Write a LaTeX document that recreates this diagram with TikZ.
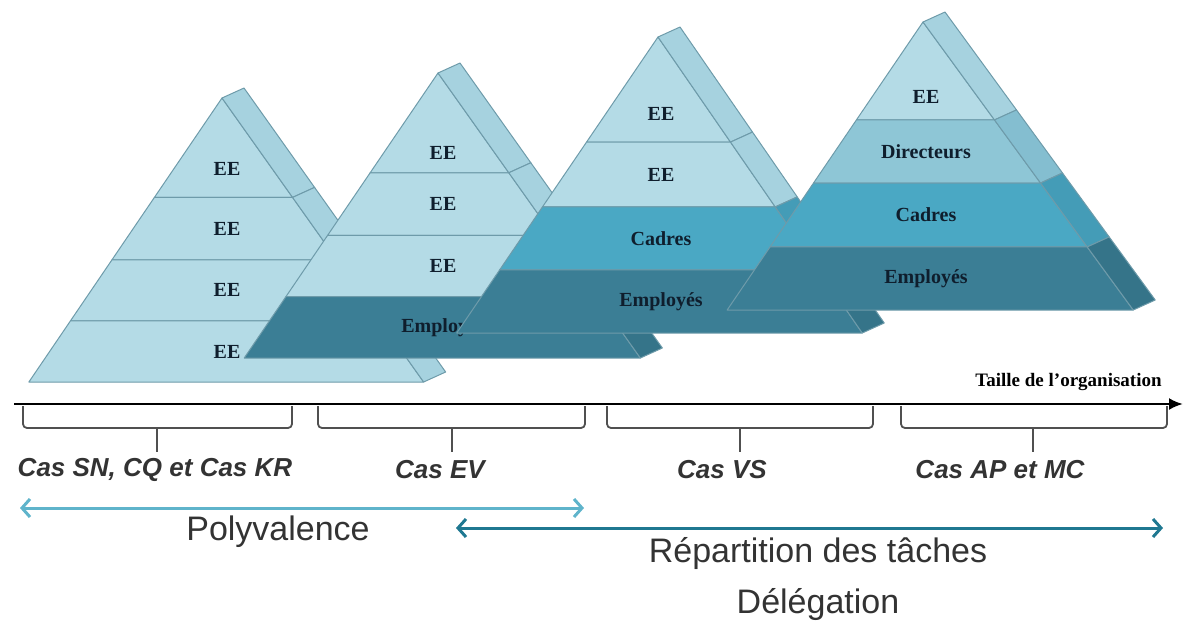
\documentclass[tikz,border=0pt]{standalone}
\usepackage{fontspec}
\setmainfont{Liberation Serif}
\newfontfamily\orgsansfont{Liberation Sans}
\usetikzlibrary{arrows.meta,calc}
\definecolor{orglight}{HTML}{B4DBE6}
\definecolor{orglightside}{HTML}{A6D2DF}
\definecolor{orgmid}{HTML}{8EC6D6}
\definecolor{orgmidside}{HTML}{84BED0}
\definecolor{orgcadre}{HTML}{4AA8C4}
\definecolor{orgcadreside}{HTML}{449CB7}
\definecolor{orgemp}{HTML}{3B7E95}
\definecolor{orgempside}{HTML}{357489}
\definecolor{orgedge}{HTML}{6E9BAA}
\definecolor{orgink}{HTML}{0F1E2D}
\definecolor{orgtext}{HTML}{333333}
\definecolor{orggray}{HTML}{505050}
\definecolor{orgpolycol}{HTML}{5FB4CB}
\definecolor{orgrepcol}{HTML}{1F7891}
\tikzset{
  orglayer/.style={draw=orgedge, line width=0.5pt, line join=round},
  orgside/.style={draw=orgedge, line width=0.5pt, line join=round},
  orglabel/.style={font=\bfseries\fontsize{10}{12}\selectfont, text=orgink, inner sep=0pt},
  orgaxis/.style={-{Latex[length=7pt,width=6pt]}, line width=1.2pt, draw=black},
  orgbracket/.style={draw=orggray, line width=0.9pt, rounded corners=2pt},
  orgcase/.style={font=\orgsansfont\bfseries\itshape\fontsize{13}{15}\selectfont, text=orgtext},
  orgspan/.style={{Straight Barb[length=4pt,width=9pt]}-{Straight Barb[length=4pt,width=9pt]}, line width=1.5pt},
  orgspantext/.style={font=\orgsansfont\fontsize{17}{20}\selectfont, text=orgtext},
  orgtitle/.style={font=\bfseries\fontsize{9.5}{11}\selectfont, text=black, inner sep=0pt}
}
\begin{document}
\begin{tikzpicture}[x=0.5pt,y=-0.5pt]
  \useasboundingbox (0,0) rectangle (1185,623);

  % pyramid 1
  \begin{scope}[shift={(222,98)}]
    \def\pyrh{284}
    \foreach \ta/\tb/\tl/\fc/\sc/\txt [count=\n] in {0/.35/.25/orglight/orglightside/EE, .35/.57/.46/orglight/orglightside/EE, .57/.785/.6775/orglight/orglightside/EE, .785/1/.8925/orglight/orglightside/EE}
    {
      \filldraw[orglayer, fill=\fc] (-0.68*\ta*\pyrh, \ta*\pyrh) -- (0.71*\ta*\pyrh, \ta*\pyrh) -- (0.71*\tb*\pyrh, \tb*\pyrh) -- (-0.68*\tb*\pyrh, \tb*\pyrh) -- cycle;
      \filldraw[orgside, fill=\sc] (0.71*\ta*\pyrh, \ta*\pyrh) -- ++(22,-10) -- (0.71*\tb*\pyrh+22, \tb*\pyrh-10) -- (0.71*\tb*\pyrh, \tb*\pyrh) -- cycle;
      \node[orglabel] (pyrA-\n) at (5, \tl*\pyrh) {\txt};
    }
  \end{scope}

  % pyramid 2
  \begin{scope}[shift={(438,73)}]
    \def\pyrh{285}
    \foreach \ta/\tb/\tl/\fc/\sc/\txt [count=\n] in {0/.35/.28/orglight/orglightside/EE, .35/.57/.46/orglight/orglightside/EE, .57/.785/.6775/orglight/orglightside/EE, .785/1/.8925/orgemp/orgempside/Employés}
    {
      \filldraw[orglayer, fill=\fc] (-0.68*\ta*\pyrh, \ta*\pyrh) -- (0.71*\ta*\pyrh, \ta*\pyrh) -- (0.71*\tb*\pyrh, \tb*\pyrh) -- (-0.68*\tb*\pyrh, \tb*\pyrh) -- cycle;
      \filldraw[orgside, fill=\sc] (0.71*\ta*\pyrh, \ta*\pyrh) -- ++(22,-10) -- (0.71*\tb*\pyrh+22, \tb*\pyrh-10) -- (0.71*\tb*\pyrh, \tb*\pyrh) -- cycle;
      \node[orglabel] (pyrB-\n) at (5, \tl*\pyrh) {\txt};
    }
  \end{scope}

  % pyramid 3
  \begin{scope}[shift={(658,37)}]
    \def\pyrh{296}
    \foreach \ta/\tb/\tl/\fc/\sc/\txt [count=\n] in {0/.355/.26/orglight/orglightside/EE, .355/.574/.4645/orglight/orglightside/EE, .574/.787/.6805/orgcadre/orgcadreside/Cadres, .787/1/.8935/orgemp/orgempside/Employés}
    {
      \filldraw[orglayer, fill=\fc] (-0.68*\ta*\pyrh, \ta*\pyrh) -- (0.69*\ta*\pyrh, \ta*\pyrh) -- (0.69*\tb*\pyrh, \tb*\pyrh) -- (-0.68*\tb*\pyrh, \tb*\pyrh) -- cycle;
      \filldraw[orgside, fill=\sc] (0.69*\ta*\pyrh, \ta*\pyrh) -- ++(22,-10) -- (0.69*\tb*\pyrh+22, \tb*\pyrh-10) -- (0.69*\tb*\pyrh, \tb*\pyrh) -- cycle;
      \node[orglabel] (pyrC-\n) at (3, \tl*\pyrh) {\txt};
    }
  \end{scope}

  % pyramid 4
  \begin{scope}[shift={(923,22)}]
    \def\pyrh{288}
    \foreach \ta/\tb/\tl/\fc/\sc/\txt [count=\n] in {0/.34/.26/orglight/orglightside/EE, .34/.559/.4495/orgmid/orgmidside/Directeurs, .559/.781/.67/orgcadre/orgcadreside/Cadres, .781/1/.8905/orgemp/orgempside/Employés}
    {
      \filldraw[orglayer, fill=\fc] (-0.68*\ta*\pyrh, \ta*\pyrh) -- (0.73*\ta*\pyrh, \ta*\pyrh) -- (0.73*\tb*\pyrh, \tb*\pyrh) -- (-0.68*\tb*\pyrh, \tb*\pyrh) -- cycle;
      \filldraw[orgside, fill=\sc] (0.73*\ta*\pyrh, \ta*\pyrh) -- ++(22,-10) -- (0.73*\tb*\pyrh+22, \tb*\pyrh-10) -- (0.73*\tb*\pyrh, \tb*\pyrh) -- cycle;
      \node[orglabel] (pyrD-\n) at (3, \tl*\pyrh) {\txt};
    }
  \end{scope}

  % size axis
  \coordinate (axisL) at (14,404);
  \coordinate (axisR) at (1183,404);
  \draw[orgaxis] (axisL) -- (axisR);
  \node[orgtitle, anchor=base east] (axistitle) at (1162,386) {Taille de l'organisation};

  % brackets and cases
  \foreach \xa/\xb/\xm/\xt/\txt [count=\n] in {23/292/157/155/{Cas SN, CQ et Cas KR}, 318/585/452/440/Cas EV, 607/873/740/722/Cas VS, 901/1167/1033/1000/Cas AP et MC}
  {
    \draw[orgbracket] (\xa,406) -- (\xa,428) -- (\xb,428) -- (\xb,406);
    \draw[orgbracket] (\xm,428) -- (\xm,452);
    \node[orgcase] (case-\n) at (\xt,470) {\txt};
  }

  % spans
  \coordinate (polyL) at (20,508);
  \coordinate (polyR) at (584,508);
  \draw[orgspan, draw=orgpolycol] (polyL) -- (polyR);
  \node[orgspantext] (polytext) at (278,532) {Polyvalence};
  \coordinate (repL) at (456,528);
  \coordinate (repR) at (1163,528);
  \draw[orgspan, draw=orgrepcol] (repL) -- (repR);
  \node[orgspantext] (reptext) at (818,553) {Répartition des tâches};
  \node[orgspantext] (deltext) at (818,604) {Délégation};
\end{tikzpicture}
\end{document}
